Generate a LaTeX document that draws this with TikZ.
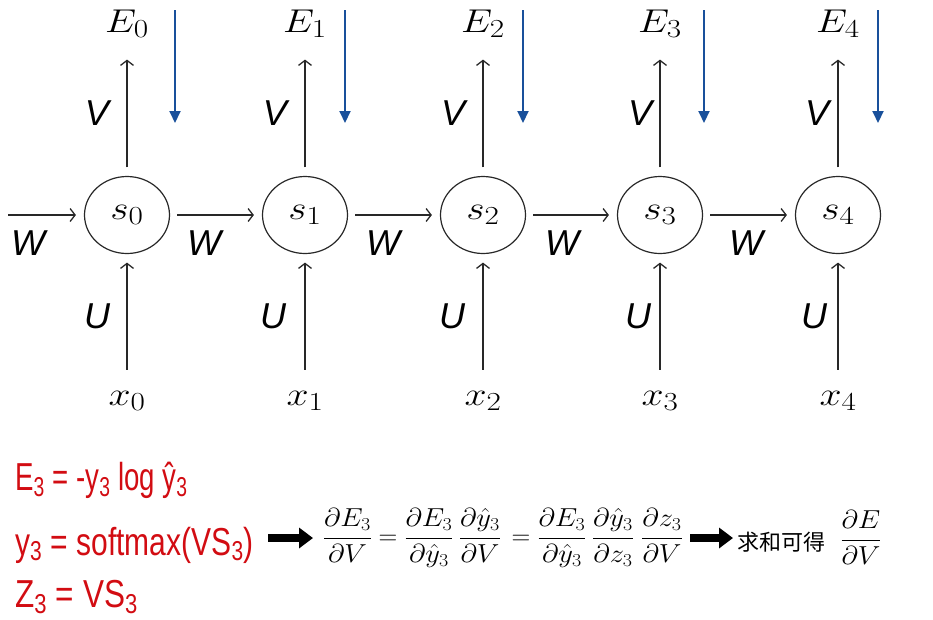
\RequirePackage{fix-cm}
\documentclass[tikz,border=0pt]{standalone}
\usepackage{fontspec}
\setsansfont{Liberation Sans}
\newfontfamily\cjkfont{Noto Sans CJK SC}
\newfontfamily\handfont{Liberation Sans}
\usetikzlibrary{arrows.meta,shapes.geometric}
\DeclareMathSizes{33}{33}{26}{20}
\definecolor{ink}{RGB}{40,40,40}
\definecolor{bluearr}{RGB}{25,80,155}
\definecolor{handred}{RGB}{210,12,18}
\newcommand{\wideM}[1]{\scalebox{1.2}[1]{$#1$}}
\newcommand{\fracM}[2]{\scalebox{1.1}[1]{\nulldelimiterspace=0pt$\displaystyle\frac{#1}{#2}$}}
\tikzset{
  state/.style={ellipse, draw=ink, line width=1.2pt, minimum width=85pt, minimum height=77pt, inner sep=0pt, font=\fontsize{33}{38}\selectfont},
  mlab/.style={inner sep=0pt, font=\fontsize{33}{38}\selectfont},
  wlab/.style={inner sep=0pt, font=\fontsize{36}{40}\selectfont\sffamily\itshape},
  flow/.style={draw=ink, line width=1.3pt, -{Straight Barb[length=5pt,width=13pt,line width=1.3pt]}},
  back/.style={draw=bluearr, line width=2pt, -{Triangle[length=12pt,width=11pt]}},
  bigarr/.style={draw=black, line width=8pt, -{Triangle[length=14pt,width=20pt]}},
  hand/.style={inner sep=0pt, anchor=west, text=handred, font=\handfont\fontsize{30}{34}\selectfont},
  eqn/.style={inner sep=0pt, anchor=base, font=\fontsize{26}{30}\selectfont},
}
\begin{document}
\begin{tikzpicture}[x=1pt,y=-1pt]
\useasboundingbox (0,0) rectangle (933,619);
\foreach \i/\cx/\vx/\ux/\wx/\bx in {0/127/97/97/28/175, 1/305/275/273/204/345, 2/483/453/452/383/523, 3/660/640/638/562/704, 4/838/817/814/746/878}{
  \node[state] (s\i) at (\cx,215) {\wideM{s_{\i}}};
  \node[mlab, anchor=base] (E\i) at (\cx,32) {\wideM{E_{\i}}};
  \node[mlab, anchor=base] (x\i) at (\cx,405) {\wideM{x_{\i}}};
  \node[wlab] (V\i) at (\vx,113) {V};
  \node[wlab] (U\i) at (\ux,316) {U};
  \node[wlab] (W\i) at (\wx,243) {W};
  \draw[flow, shorten <=8.5pt, shorten >=22pt] (s\i) -- (E\i);
  \draw[flow, shorten <=21pt, shorten >=8.5pt] (x\i) -- (s\i);
  \coordinate (bt\i) at (\bx,10);
  \coordinate (bb\i) at (\bx,123);
  \draw[back] (bt\i) -- (bb\i);
}
\coordinate (in) at (8,215);
\draw[flow, shorten >=8pt] (in) -- (s0);
\foreach \i/\j in {0/1,1/2,2/3,3/4}{
  \draw[flow, shorten <=7pt, shorten >=8pt] (s\i) -- (s\j);
}
% handwritten notes
\node[hand] (r1) at (15,480) {\scalebox{0.92}[1.3]{E\textsubscript{3} = -y\textsubscript{3} log ŷ\textsubscript{3}}};
\node[hand] (r2) at (15,545) {\scalebox{1.0}[1.3]{y\textsubscript{3} = softmax(VS\textsubscript{3})}};
\node[hand] (r3) at (15,597) {\scalebox{1.05}[1.3]{Z\textsubscript{3} = VS\textsubscript{3}}};
% equations
\coordinate (ba1s) at (268,538);
\coordinate (ba1e) at (313,538);
\draw[bigarr] (ba1s) -- (ba1e);
\node[eqn] (f1) at (347.5,544.5) {\fracM{\partial E_3}{\partial V}};
\node[eqn] (eq1) at (388,544.5) {$=$};
\node[eqn] (f2) at (429,544.5) {\fracM{\partial E_3}{\partial \hat{y}_3}};
\node[eqn] (f3) at (480,544.5) {\fracM{\partial \hat{y}_3}{\partial V}};
\node[eqn] (eq2) at (521,544.5) {$=$};
\node[eqn] (f4) at (562,544.5) {\fracM{\partial E_3}{\partial \hat{y}_3}};
\node[eqn] (f5) at (613,544.5) {\fracM{\partial \hat{y}_3}{\partial z_3}};
\node[eqn] (f6) at (662,544.5) {\fracM{\partial z_3}{\partial V}};
\coordinate (ba2s) at (690,538);
\coordinate (ba2e) at (733,538);
\draw[bigarr] (ba2s) -- (ba2e);
\node[inner sep=0pt, anchor=west, font=\cjkfont\fontsize{22}{26}\selectfont] (sum) at (737,542) {求和可得};
\node[eqn] (dEdV) at (861,546.5) {\fracM{\partial E}{\partial V}};
\end{tikzpicture}
\end{document}
